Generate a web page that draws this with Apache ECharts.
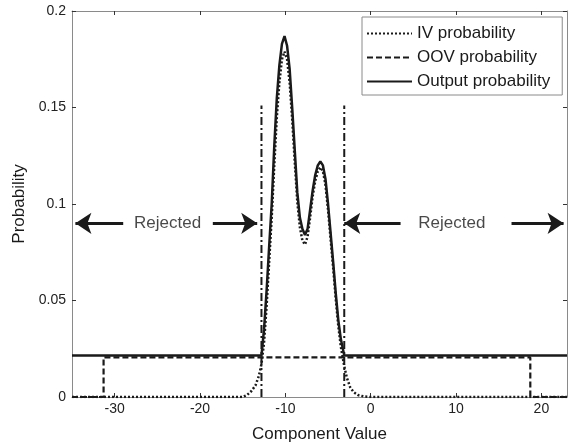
<!DOCTYPE html>
<html>
<head>
<meta charset="utf-8">
<script src="https://cdn.jsdelivr.net/npm/echarts@6/dist/echarts.min.js"></script>
<style>
html,body{margin:0;padding:0;background:#fff;}
#c{width:573px;height:448px;}
</style>
</head>
<body>
<div id="c"></div>
<script>
// ---- data ----
const xTicks = [-30, -20, -10, 0, 10, 20];
const yTicks = [0, 0.05, 0.1, 0.15, 0.2];

const ivX = [-35, -15, -14.5, -14, -13.5, -13.1, -12.8, -12.5, -12.2, -11.9, -11.6, -11.3, -11, -10.7, -10.4, -10.1, -9.8, -9.5, -9.2, -8.9, -8.6, -8.3, -8, -7.7, -7.4, -7.1, -6.8, -6.5, -6.2, -5.9, -5.6, -5.3, -5, -4.7, -4.4, -4.1, -3.8, -3.5, -3.1, -2.8, -2.4, -2, -1.5, -0.8, 0, 23];
const ivY = [0, 0, 0.001, 0.003, 0.006, 0.011, 0.017, 0.028, 0.047, 0.07, 0.093, 0.12, 0.145, 0.163, 0.175, 0.179, 0.175, 0.163, 0.144, 0.122, 0.101, 0.088, 0.081, 0.079, 0.083, 0.093, 0.104, 0.112, 0.117, 0.119, 0.117, 0.11, 0.097, 0.082, 0.067, 0.051, 0.037, 0.026, 0.016, 0.01, 0.005, 0.0025, 0.001, 0.0003, 0, 0];

const oovX = [-35, -31.3, -31.3, 18.7, 18.7, 23];
const oovY = [0, 0, 0.0205, 0.0205, 0, 0];

const outX = [-35, -12.8, -12.5, -12.2, -11.9, -11.6, -11.3, -11, -10.7, -10.4, -10.1, -9.8, -9.5, -9.2, -8.9, -8.6, -8.3, -8, -7.7, -7.4, -7.1, -6.8, -6.5, -6.2, -5.9, -5.6, -5.3, -5, -4.7, -4.4, -4.1, -3.8, -3.5, -3.1, 23];
const outY = [0.0215, 0.0215, 0.035, 0.055, 0.078, 0.1, 0.13, 0.155, 0.172, 0.183, 0.187, 0.182, 0.17, 0.15, 0.128, 0.106, 0.093, 0.087, 0.084, 0.087, 0.097, 0.107, 0.115, 0.12, 0.122, 0.12, 0.113, 0.1, 0.085, 0.07, 0.054, 0.04, 0.03, 0.0215, 0.0215];

const thresholdX = [-12.8, -3.1];
const thresholdTop = 0.151;

const arrowY = 0.09;
const arrowTails = [-29.0, -18.5, 3.5, 16.5];
const arrowTips = [-34.6, -13.3, -3.1, 22.6];
const rejectedX = [-23.8, 9.5];
const rejectedText = 'Rejected';

const seriesNames = ['IV probability', 'OOV probability', 'Output probability'];

// ---- chart ----
const FONT = "'Liberation Sans', Arial, Helvetica, sans-serif";
const INK = '#1a1a1a';
const zip = (xs, ys) => xs.map((x, i) => [x, ys[i]]);

const chart = echarts.init(document.getElementById('c'), null, {renderer: 'canvas'});

const axisLineStyle = {show: true, onZero: false, lineStyle: {color: '#8a8a8a', width: 1}};
const tickStyle = {show: true, inside: true, length: 4, lineStyle: {color: '#333', width: 1}};

const series = [
  {
    name: seriesNames[0], type: 'line', data: zip(ivX, ivY), symbol: 'none', z: 4,
    itemStyle: {color: INK},
    lineStyle: {color: INK, width: 2.5, type: [2, 2]}
  },
  {
    name: seriesNames[1], type: 'line', data: zip(oovX, oovY), symbol: 'none', z: 3,
    itemStyle: {color: INK},
    lineStyle: {color: INK, width: 2.2, type: [6, 3]}
  },
  {
    name: seriesNames[2], type: 'line', data: zip(outX, outY), symbol: 'none', z: 5,
    itemStyle: {color: INK},
    lineStyle: {color: INK, width: 2.5, type: 'solid'}
  }
];

thresholdX.forEach((tx) => {
  series.push({
    name: 'threshold', type: 'line', symbol: 'none', silent: true, z: 2,
    data: [[tx, 0], [tx, thresholdTop]],
    lineStyle: {color: INK, width: 2, type: [8, 3, 2, 3]}
  });
});

series.push({
  name: 'arrows', type: 'lines', coordinateSystem: 'cartesian2d', silent: true, z: 6,
  symbol: ['none', 'arrow'], symbolSize: [0, 16],
  lineStyle: {color: INK, width: 3, opacity: 1, curveness: 0},
  data: arrowTails.map((t, i) => ({coords: [[t, arrowY], [arrowTips[i], arrowY]]}))
});

series.push({
  name: 'rejected', type: 'scatter', silent: true, symbolSize: 1, z: 6,
  itemStyle: {color: 'rgba(0,0,0,0)'},
  data: rejectedX.map((x) => [x, arrowY]),
  label: {show: true, position: 'inside', formatter: rejectedText, fontFamily: FONT, fontSize: 17, color: '#1a1a1a'}
});

chart.setOption({
  animation: false,
  backgroundColor: '#fff',
  textStyle: {fontFamily: FONT},
  grid: {left: 72, right: 6, top: 11, bottom: 46, containLabel: false},
  legend: {
    data: seriesNames,
    orient: 'vertical',
    left: 362, top: 17,
    backgroundColor: '#fff',
    borderColor: '#8a8a8a', borderWidth: 1, borderRadius: 0,
    padding: [8, 12, 5, 4],
    itemWidth: 45, itemHeight: 14, itemGap: 7,
    itemStyle: {opacity: 0},
    textStyle: {fontFamily: FONT, fontSize: 17, color: '#1a1a1a'},
    selectedMode: false
  },
  xAxis: [
    {
      type: 'value', position: 'bottom', min: -35, max: 23,
      axisLine: axisLineStyle, splitLine: {show: false},
      axisTick: Object.assign({}, tickStyle, {customValues: xTicks}),
      axisLabel: {customValues: xTicks, fontFamily: FONT, fontSize: 14, color: '#222', margin: 5},
      name: 'Component Value', nameLocation: 'middle', nameGap: 29,
      nameTextStyle: {fontFamily: FONT, fontSize: 17, color: '#1a1a1a'}
    },
    {
      type: 'value', position: 'top', min: -35, max: 23,
      axisLine: axisLineStyle, splitLine: {show: false},
      axisTick: Object.assign({}, tickStyle, {customValues: xTicks}),
      axisLabel: {show: false}
    }
  ],
  yAxis: [
    {
      type: 'value', position: 'left', min: 0, max: 0.2, interval: 0.05,
      axisLine: axisLineStyle, splitLine: {show: false},
      axisTick: Object.assign({}, tickStyle, {customValues: yTicks}),
      axisLabel: {customValues: yTicks, fontFamily: FONT, fontSize: 14, color: '#222', margin: 6},
      name: 'Probability', nameLocation: 'middle', nameGap: 37, nameRotate: 90,
      nameTextStyle: {fontFamily: FONT, fontSize: 17, color: '#1a1a1a'}
    },
    {
      type: 'value', position: 'right', min: 0, max: 0.2, interval: 0.05,
      axisLine: axisLineStyle, splitLine: {show: false},
      axisTick: Object.assign({}, tickStyle, {customValues: yTicks}),
      axisLabel: {show: false}
    }
  ],
  series: series
});
</script>
</body>
</html>
